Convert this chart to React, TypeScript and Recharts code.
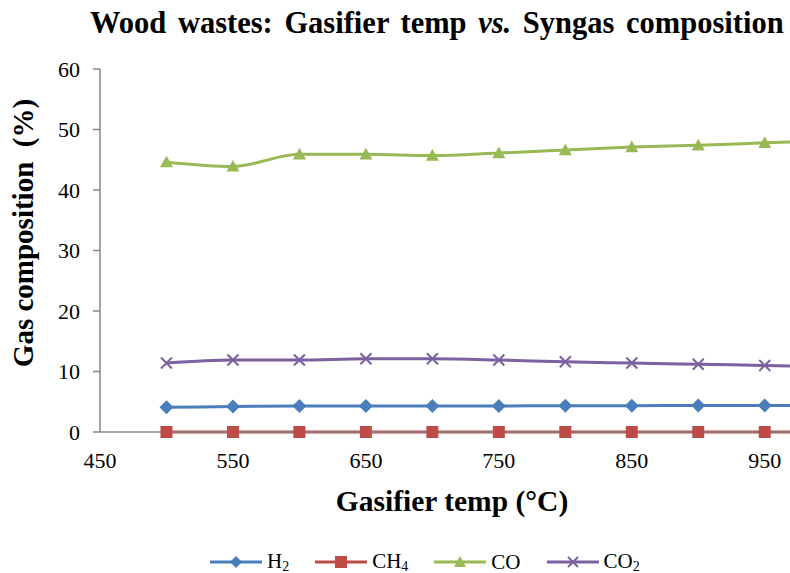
import React from 'react';
import { LineChart, Line, XAxis, YAxis, Legend } from 'recharts';

const temps = [500, 550, 600, 650, 700, 750, 800, 850, 900, 950, 1000];
const h2 = [4.1, 4.2, 4.3, 4.3, 4.3, 4.3, 4.35, 4.35, 4.4, 4.4, 4.4];
const ch4 = [0, 0, 0, 0, 0, 0, 0, 0, 0, 0, 0];
const co = [44.6, 43.9, 45.9, 45.9, 45.7, 46.1, 46.6, 47.1, 47.4, 47.8, 48.2];
const co2 = [11.4, 11.9, 11.9, 12.1, 12.1, 11.9, 11.6, 11.4, 11.2, 11.0, 10.8];
const xTicks = [450, 550, 650, 750, 850, 950];
const yTicks = [0, 10, 20, 30, 40, 50, 60];

const data = temps.map((t, i) => ({ t, h2: h2[i], ch4: ch4[i], co: co[i], co2: co2[i] }));

const C_H2 = '#4A7EBB';
const C_CH4 = '#BE4B48';
const C_CO = '#98B954';
const C_CO2 = '#7D60A0';
const AXIS = '#868686';
const SERIF = '"Liberation Serif", "Times New Roman", serif';

const Diamond = (p: any) => {
  const { cx, cy, fill } = p;
  if (cx == null || cy == null) return <g key={p.index} />;
  const r = 7;
  return <path key={p.index} d={`M${cx},${cy - r}L${cx + r},${cy}L${cx},${cy + r}L${cx - r},${cy}Z`} fill={fill} />;
};
const Square = (p: any) => {
  const { cx, cy, fill } = p;
  if (cx == null || cy == null) return <g key={p.index} />;
  const r = 6;
  return <rect key={p.index} x={cx - r} y={cy - r} width={2 * r} height={2 * r} fill={fill} />;
};
const Triangle = (p: any) => {
  const { cx, cy, fill } = p;
  if (cx == null || cy == null) return <g key={p.index} />;
  const r = 6.5;
  return <path key={p.index} d={`M${cx},${cy - r}L${cx + r},${cy + r * 0.8}L${cx - r},${cy + r * 0.8}Z`} fill={fill} />;
};
const Cross = (p: any) => {
  const { cx, cy, stroke } = p;
  if (cx == null || cy == null) return <g key={p.index} />;
  const r = 5.5;
  return (
    <path key={p.index} d={`M${cx - r},${cy - r}L${cx + r},${cy + r}M${cx - r},${cy + r}L${cx + r},${cy - r}`} stroke={stroke} strokeWidth={2} fill="none" />
  );
};

const legendItems = [
  { name: 'H', sub: '2', color: C_H2, marker: 'diamond' },
  { name: 'CH', sub: '4', color: C_CH4, marker: 'square' },
  { name: 'CO', sub: '', color: C_CO, marker: 'triangle' },
  { name: 'CO', sub: '2', color: C_CO2, marker: 'cross' },
];

const LegendMarker = ({ marker, color }: { marker: string; color: string }) => {
  const cx = 26, cy = 7;
  let m: any = null;
  if (marker === 'diamond') m = <path d={`M${cx},${cy - 6}L${cx + 6},${cy}L${cx},${cy + 6}L${cx - 6},${cy}Z`} fill={color} />;
  if (marker === 'square') m = <rect x={cx - 6} y={cy - 6} width={12} height={12} fill={color} />;
  if (marker === 'triangle') m = <path d={`M${cx},${cy - 6}L${cx + 6},${cy + 5}L${cx - 6},${cy + 5}Z`} fill={color} />;
  if (marker === 'cross') m = <path d={`M${cx - 5},${cy - 5}L${cx + 5},${cy + 5}M${cx - 5},${cy + 5}L${cx + 5},${cy - 5}`} stroke={color} strokeWidth={2} />;
  return (
    <svg width={52} height={14} style={{ display: 'block' }}>
      <line x1={0} y1={cy} x2={52} y2={cy} stroke={color} strokeWidth={3} />
      {m}
    </svg>
  );
};

const renderLegend = () => (
  <div style={{ display: 'flex', alignItems: 'center', fontFamily: SERIF, fontSize: 21, color: '#000', whiteSpace: 'nowrap' }}>
    {legendItems.map((it, i) => (
      <div key={i} style={{ display: 'flex', alignItems: 'center', marginRight: 26 }}>
        <LegendMarker marker={it.marker} color={it.color} />
        <span style={{ marginLeft: 5 }}>
          {it.name}
          {it.sub ? <sub style={{ fontSize: 14, verticalAlign: -3 }}>{it.sub}</sub> : null}
        </span>
      </div>
    ))}
  </div>
);

export default function App() {
  return (
    <div style={{ position: 'absolute', left: 0, top: 0, width: 790, height: 573, background: '#fff', overflow: 'hidden' }}>
      <LineChart width={790} height={573} data={data} margin={{ top: 69, right: 0, bottom: 111, left: 0 }}>
        <XAxis
          dataKey="t"
          type="number"
          domain={[450, 969]}
          allowDataOverflow
          ticks={xTicks}
          tickLine={false}
          tickSize={8}
          tickMargin={12}
          height={30}
          stroke={AXIS}
          strokeWidth={1.5}
          tick={{ fill: '#000', fontSize: 22, fontFamily: SERIF }}
        />
        <YAxis
          type="number"
          domain={[0, 60]}
          ticks={yTicks}
          width={100}
          tickSize={7}
          tickMargin={13}
          stroke={AXIS}
          strokeWidth={1.5}
          tick={{ fill: '#000', fontSize: 22, fontFamily: SERIF }}
        />
        <Legend
          verticalAlign="middle"
          align="center"
          layout="horizontal"
          content={renderLegend}
          wrapperStyle={{ top: 549, left: 210, width: 560, height: 24 }}
        />
        <Line type="monotone" dataKey="h2" stroke={C_H2} strokeWidth={3} dot={<Diamond fill={C_H2} />} isAnimationActive={false} />
        <Line type="monotone" dataKey="ch4" stroke={C_CH4} strokeWidth={3} dot={<Square fill={C_CH4} />} isAnimationActive={false} />
        <Line type="monotone" dataKey="co" stroke={C_CO} strokeWidth={3} dot={<Triangle fill={C_CO} />} isAnimationActive={false} />
        <Line type="monotone" dataKey="co2" stroke={C_CO2} strokeWidth={3} dot={<Cross stroke={C_CO2} />} isAnimationActive={false} />
      </LineChart>
      <svg width={790} height={573} style={{ position: 'absolute', left: 0, top: 0, pointerEvents: 'none' }}>
        <text x={90} y={33} fontFamily={SERIF} fontWeight="bold" fontSize={30.5} wordSpacing={4} fill="#000">
          Wood wastes: Gasifier temp <tspan fontStyle="italic">vs.</tspan> Syngas composition
        </text>
        <text
          transform="translate(33,233) rotate(-90)"
          textAnchor="middle"
          fontFamily={SERIF}
          fontWeight="bold"
          fontSize={29}
          fill="#000"
          style={{ whiteSpace: 'pre' }}
        >
          {'Gas composition  (%)'}
        </text>
        <text x={452} y={511} textAnchor="middle" fontFamily={SERIF} fontWeight="bold" fontSize={29.5} fill="#000">
          Gasifier temp (°C)
        </text>
      </svg>
    </div>
  );
}
